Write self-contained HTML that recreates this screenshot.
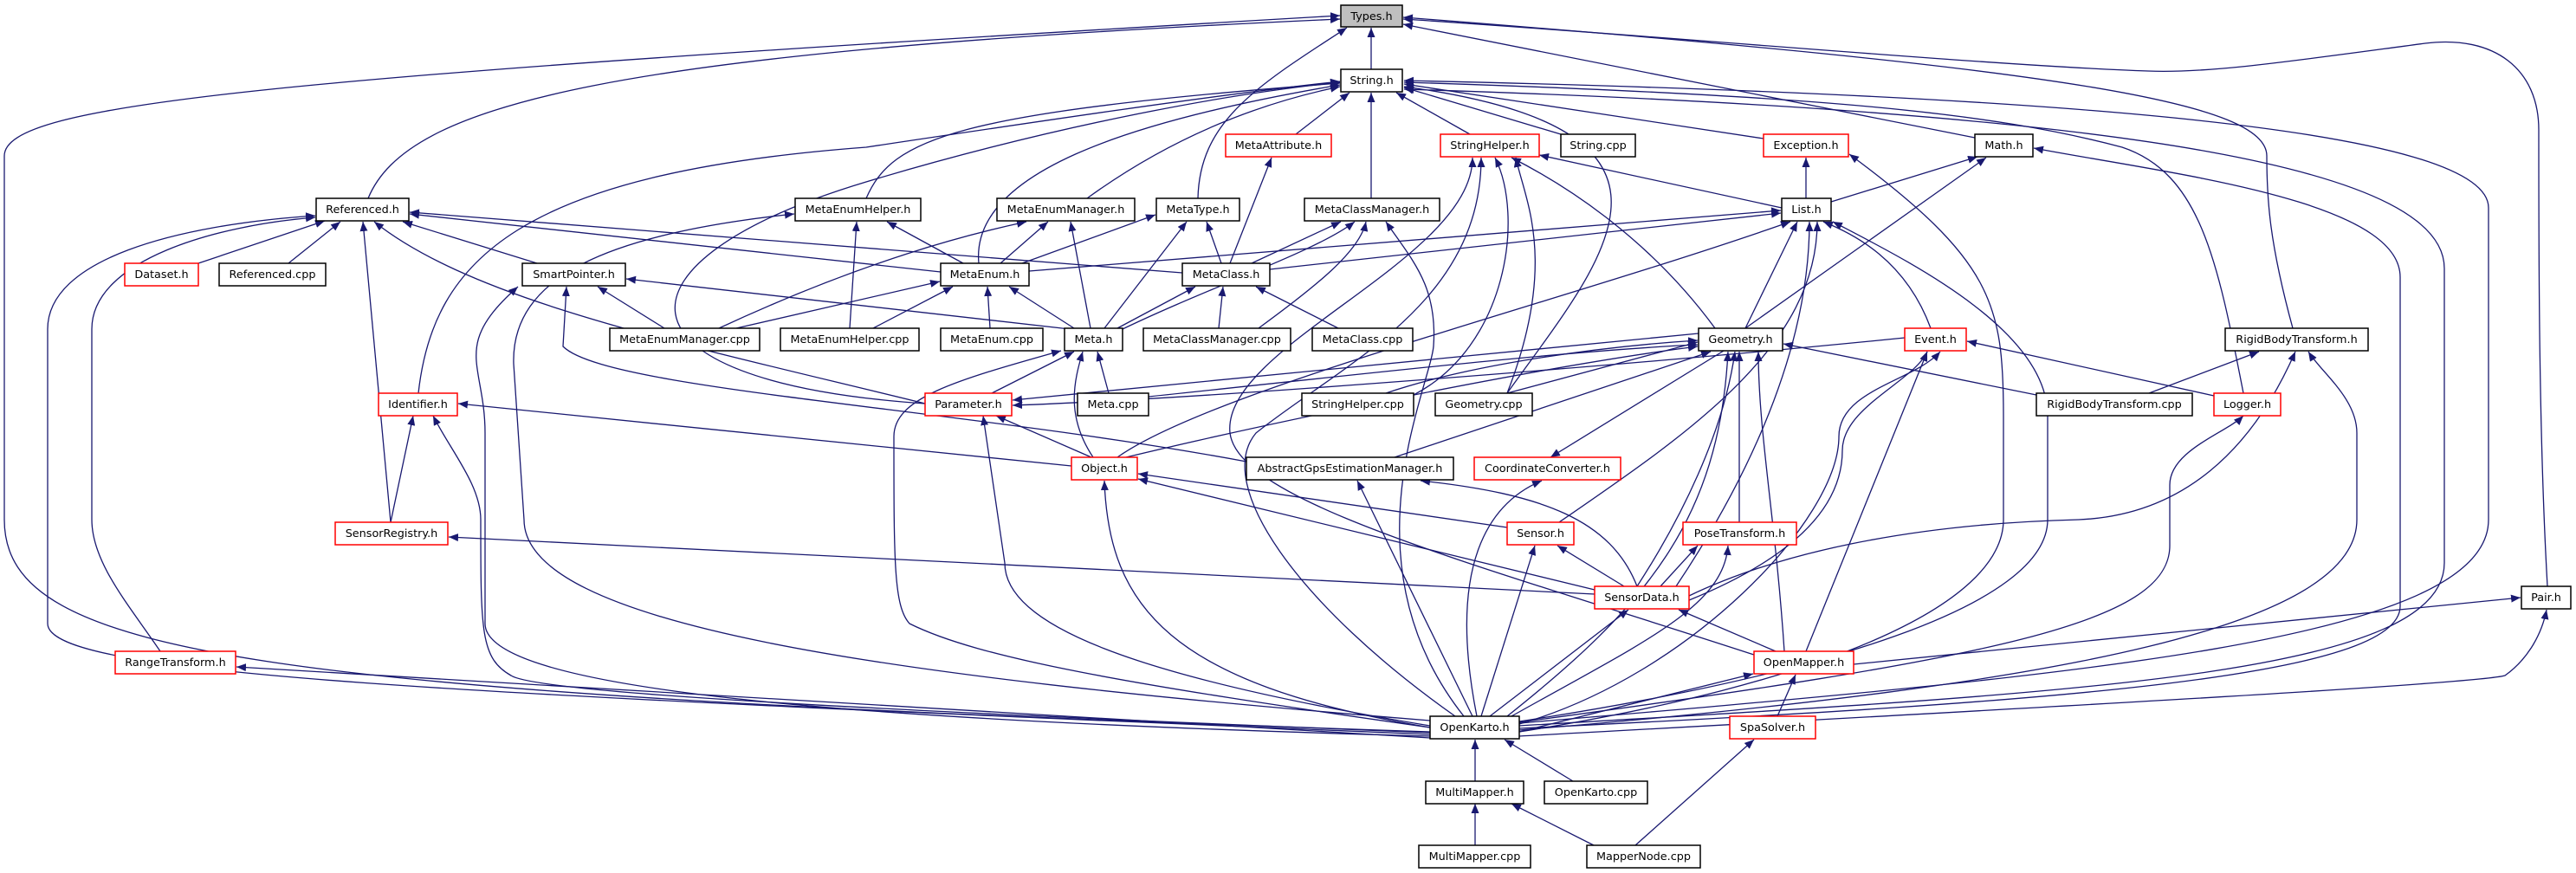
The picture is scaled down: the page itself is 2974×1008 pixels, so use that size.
<!DOCTYPE html>
<html><head><meta charset="utf-8"><style>
html,body{margin:0;padding:0;background:#fff;}
svg{display:block;}
text{font-family:"DejaVu Sans","Liberation Sans",sans-serif;font-size:12.8px;fill:#000;}
</style></head><body>
<svg width="2974" height="1008" viewBox="0 0 2974 1008" xmlns="http://www.w3.org/2000/svg">
<defs>
<marker id="a" markerUnits="userSpaceOnUse" markerWidth="12" markerHeight="10" refX="11" refY="4.5" orient="auto">
<polygon points="0,0 11,4.5 0,9" fill="#191970"/>
</marker>
</defs>
<g fill="none" stroke="#191970" stroke-width="1.3" marker-end="url(#a)">
<path d="M1583,80 L1583,32"/>
<path d="M425,229 C470,120 700,60 1547,22"/>
<path d="M1651,845 C300,800 5,760 5,600 L5,180 C5,120 300,90 1547,18"/>
<path d="M1383,229 C1385,140 1450,100 1555,32"/>
<path d="M2285,160 L1620,28"/>
<path d="M2647,379 C2620,280 2617,230 2617,180 C2617,120 2400,80 1620,20"/>
<path d="M2941,677 C2931,500 2931,300 2931,150 C2931,80 2880,40 2800,50 C2650,70 2550,85 2480,82 C2300,76 1900,40 1620,22"/>
<path d="M1496,155 L1558,107"/>
<path d="M1697,155 L1612,107"/>
<path d="M1802,155 L1621,101"/>
<path d="M1583,229 L1583,107"/>
<path d="M2036,160 L1621,97"/>
<path d="M1255,229 C1350,160 1450,120 1547,100"/>
<path d="M1130,304 C1120,200 1300,140 1547,98"/>
<path d="M1000,229 C1030,160 1100,130 1547,96"/>
<path d="M1068,466 C690,440 700,300 1000,210 C1200,150 1400,110 1547,95"/>
<path d="M483,454 C500,300 600,200 1000,170 C1200,140 1400,110 1547,94"/>
<path d="M2590,454 C2560,300 2540,200 2450,170 C2300,130 2100,110 1621,95"/>
<path d="M1740,454 C1850,300 1990,150 1621,100"/>
<path d="M1754,835 C2400,780 2873,740 2873,600 L2873,240 C2873,150 2400,110 1621,93"/>
<path d="M1754,838 C2400,800 2822,780 2822,650 L2822,310 C2822,200 2500,130 1621,103"/>
<path d="M2114,233 L2283,181"/>
<path d="M2015,379 L2293,182"/>
<path d="M1754,841 C2400,810 2771,780 2771,700 L2771,320 C2771,230 2500,200 2348,171"/>
<path d="M2085,229 L2085,182"/>
<path d="M1754,845 C2100,790 2313,700 2313,600 L2313,480 C2313,350 2300,300 2135,178"/>
<path d="M2057,240 L1777,179"/>
<path d="M1980,379 C1900,270 1800,210 1745,182"/>
<path d="M1632,456 C1740,400 1760,250 1726,182"/>
<path d="M1680,827 C1500,700 1400,560 1450,500 C1550,420 1710,350 1710,182"/>
<path d="M1740,454 C1800,300 1760,230 1750,182"/>
<path d="M2025,756 C1700,650 1430,580 1420,500 C1410,400 1700,300 1700,182"/>
<path d="M1420,304 L1468,182"/>
<path d="M229,304 L375,255"/>
<path d="M333,304 L393,256"/>
<path d="M451,603 L419,256"/>
<path d="M620,304 L465,256"/>
<path d="M1068,466 C800,400 550,350 432,256"/>
<path d="M1651,848 C500,800 55,780 55,720 L55,380 C55,300 200,260 364,249"/>
<path d="M185,752 C150,700 106,650 106,600 L106,380 C106,300 250,260 364,251"/>
<path d="M1086,314 L473,247"/>
<path d="M1365,315 L473,245"/>
<path d="M1112,304 L1024,256"/>
<path d="M981,379 L989,256"/>
<path d="M1651,832 C1000,780 605,720 605,600 L593,420 C590,320 700,270 917,247"/>
<path d="M1155,304 L1210,256"/>
<path d="M1259,379 L1236,256"/>
<path d="M830,379 C1000,300 1120,270 1185,256"/>
<path d="M1180,304 L1334,248"/>
<path d="M1275,379 L1370,256"/>
<path d="M1410,304 L1393,256"/>
<path d="M1445,304 L1548,256"/>
<path d="M1296,380 C1400,330 1520,290 1564,256"/>
<path d="M1453,379 C1520,330 1570,290 1577,256"/>
<path d="M1690,827 C1550,650 1650,450 1655,400 C1660,330 1630,300 1600,256"/>
<path d="M1188,313 L2056,243"/>
<path d="M1466,311 L2056,246"/>
<path d="M2015,379 L2075,256"/>
<path d="M2229,379 C2200,300 2140,270 2105,256"/>
<path d="M1935,677 C2000,580 2089,420 2089,256"/>
<path d="M1754,833 C2100,780 2364,700 2364,600 L2364,480 C2364,380 2200,300 2116,256"/>
<path d="M1290,528 C1400,450 1800,350 2067,256"/>
<path d="M1800,603 C1950,500 2098,400 2098,256"/>
<path d="M850,379 L1085,325"/>
<path d="M1008,379 L1100,331"/>
<path d="M1143,379 L1140,331"/>
<path d="M1240,379 L1165,331"/>
<path d="M1290,379 L1380,331"/>
<path d="M1407,379 L1412,331"/>
<path d="M1545,379 L1450,331"/>
<path d="M1235,380 L723,322"/>
<path d="M767,379 L690,331"/>
<path d="M1651,850 C900,830 560,790 560,720 L560,500 C560,420 520,400 598,331"/>
<path d="M1439,533 C1100,470 700,450 650,400 L654,331"/>
<path d="M1145,454 L1240,406"/>
<path d="M1280,454 L1267,406"/>
<path d="M1262,528 C1230,480 1240,440 1250,406"/>
<path d="M1651,840 C1300,790 1130,760 1050,720 C1032,700 1032,650 1032,504 C1032,460 1100,440 1225,405"/>
<path d="M1260,528 L1150,480"/>
<path d="M1651,838 C1300,780 1160,720 1160,650 L1135,480"/>
<path d="M1961,385 L1169,462"/>
<path d="M2199,390 C1900,420 1400,460 1169,468"/>
<path d="M1237,538 L529,466"/>
<path d="M451,603 L477,480"/>
<path d="M1651,846 C1000,820 620,800 590,780 C555,760 555,730 555,600 C555,560 520,520 500,480"/>
<path d="M1740,609 L1314,547"/>
<path d="M1841,681 L1314,553"/>
<path d="M1651,840 C1350,790 1280,700 1275,555"/>
<path d="M1700,827 L1567,555"/>
<path d="M1890,677 C1860,600 1780,570 1640,555"/>
<path d="M1705,827 C1670,650 1720,580 1780,555"/>
<path d="M1990,405 L1790,528"/>
<path d="M1875,677 L1798,630"/>
<path d="M1710,827 L1772,630"/>
<path d="M1841,686 L518,620"/>
<path d="M1917,677 L1960,630"/>
<path d="M1745,827 C1900,740 1990,700 1995,630"/>
<path d="M1720,827 L1880,704"/>
<path d="M2050,752 L1938,704"/>
<path d="M1950,688 C2050,640 2200,605 2400,600 C2520,595 2600,520 2650,406"/>
<path d="M1950,693 C2080,640 2127,580 2127,520 C2127,470 2210,440 2225,406"/>
<path d="M1740,827 C1900,700 1985,600 1995,406"/>
<path d="M2060,752 C2050,600 2030,500 2030,406"/>
<path d="M2008,603 L2008,406"/>
<path d="M1890,677 C1940,600 1990,500 2003,406"/>
<path d="M1740,454 L1960,395"/>
<path d="M1600,454 C1700,420 1850,400 1960,393"/>
<path d="M2351,456 L2059,397"/>
<path d="M1326,458 C1500,440 1800,405 1960,398"/>
<path d="M1300,528 C1500,480 1800,420 1960,400"/>
<path d="M1610,528 L1975,406"/>
<path d="M2556,457 L2271,394"/>
<path d="M2085,752 L2225,406"/>
<path d="M1754,836 C1950,780 2123,600 2123,504 C2123,450 2210,440 2240,406"/>
<path d="M2481,454 L2608,406"/>
<path d="M1754,843 C2400,790 2721,720 2721,600 L2721,500 C2721,460 2680,430 2665,406"/>
<path d="M1754,834 C2300,760 2505,720 2505,630 L2505,560 C2505,520 2570,500 2590,480"/>
<path d="M2140,767 L2910,690"/>
<path d="M1754,850 C2300,820 2860,790 2892,780 C2920,760 2935,730 2940,704"/>
<path d="M1754,845 L2024,778"/>
<path d="M2052,827 L2073,779"/>
<path d="M1703,902 L1703,854"/>
<path d="M1816,902 L1737,854"/>
<path d="M1651,852 L273,770"/>
<path d="M1888,976 L2025,854"/>
<path d="M1703,976 L1703,928"/>
<path d="M1840,976 L1745,928"/>
</g>
<g stroke-width="1.5">
<g fill="#fff" stroke="#000">
<rect x="1548" y="80" width="71" height="26"/>
<rect x="1802" y="155" width="86" height="26"/>
<rect x="2280" y="155" width="67" height="26"/>
<rect x="365" y="229" width="107" height="26"/>
<rect x="918" y="229" width="145" height="26"/>
<rect x="1151" y="229" width="159" height="26"/>
<rect x="1335" y="229" width="96" height="26"/>
<rect x="1506" y="229" width="156" height="26"/>
<rect x="2057" y="229" width="57" height="26"/>
<rect x="253" y="304" width="123" height="26"/>
<rect x="603" y="304" width="119" height="26"/>
<rect x="1086" y="304" width="102" height="26"/>
<rect x="1365" y="304" width="101" height="26"/>
<rect x="704" y="379" width="173" height="26"/>
<rect x="901" y="379" width="160" height="26"/>
<rect x="1086" y="379" width="118" height="26"/>
<rect x="1229" y="379" width="67" height="26"/>
<rect x="1320" y="379" width="170" height="26"/>
<rect x="1515" y="379" width="116" height="26"/>
<rect x="1961" y="379" width="97" height="26"/>
<rect x="2569" y="379" width="165" height="26"/>
<rect x="1244" y="454" width="82" height="26"/>
<rect x="1503" y="454" width="129" height="26"/>
<rect x="1657" y="454" width="112" height="26"/>
<rect x="2351" y="454" width="180" height="26"/>
<rect x="1439" y="528" width="239" height="26"/>
<rect x="2911" y="677" width="57" height="26"/>
<rect x="1651" y="827" width="103" height="26"/>
<rect x="1646" y="902" width="113" height="26"/>
<rect x="1783" y="902" width="119" height="26"/>
<rect x="1638" y="976" width="129" height="26"/>
<rect x="1832" y="976" width="131" height="26"/>
</g>
<rect x="1548" y="6" width="71" height="25" fill="#bfbfbf" stroke="#000"/>
<g fill="#fff" stroke="#ff0000">
<rect x="1415" y="155" width="122" height="26"/>
<rect x="1663" y="155" width="114" height="26"/>
<rect x="2036" y="155" width="98" height="26"/>
<rect x="144" y="304" width="85" height="26"/>
<rect x="2199" y="379" width="71" height="26"/>
<rect x="437" y="454" width="91" height="26"/>
<rect x="1068" y="454" width="100" height="26"/>
<rect x="2556" y="454" width="77" height="26"/>
<rect x="1237" y="528" width="76" height="26"/>
<rect x="1702" y="528" width="169" height="26"/>
<rect x="387" y="603" width="130" height="26"/>
<rect x="1740" y="603" width="77" height="26"/>
<rect x="1943" y="603" width="131" height="26"/>
<rect x="1841" y="677" width="109" height="26"/>
<rect x="133" y="752" width="139" height="26"/>
<rect x="2025" y="752" width="115" height="26"/>
<rect x="1997" y="827" width="99" height="26"/>
</g>
</g>
<g text-anchor="middle">
<text x="1583.5" y="23">Types.h</text>
<text x="1583.5" y="97">String.h</text>
<text x="1476" y="172">MetaAttribute.h</text>
<text x="1720" y="172">StringHelper.h</text>
<text x="1845" y="172">String.cpp</text>
<text x="2085" y="172">Exception.h</text>
<text x="2313.5" y="172">Math.h</text>
<text x="418.5" y="246">Referenced.h</text>
<text x="990.5" y="246">MetaEnumHelper.h</text>
<text x="1230.5" y="246">MetaEnumManager.h</text>
<text x="1383" y="246">MetaType.h</text>
<text x="1584" y="246">MetaClassManager.h</text>
<text x="2085.5" y="246">List.h</text>
<text x="186.5" y="321">Dataset.h</text>
<text x="314.5" y="321">Referenced.cpp</text>
<text x="662.5" y="321">SmartPointer.h</text>
<text x="1137" y="321">MetaEnum.h</text>
<text x="1415.5" y="321">MetaClass.h</text>
<text x="790.5" y="396">MetaEnumManager.cpp</text>
<text x="981" y="396">MetaEnumHelper.cpp</text>
<text x="1145" y="396">MetaEnum.cpp</text>
<text x="1262.5" y="396">Meta.h</text>
<text x="1405" y="396">MetaClassManager.cpp</text>
<text x="1573" y="396">MetaClass.cpp</text>
<text x="2009.5" y="396">Geometry.h</text>
<text x="2234.5" y="396">Event.h</text>
<text x="2651.5" y="396">RigidBodyTransform.h</text>
<text x="482.5" y="471">Identifier.h</text>
<text x="1118" y="471">Parameter.h</text>
<text x="1285" y="471">Meta.cpp</text>
<text x="1567.5" y="471">StringHelper.cpp</text>
<text x="1713" y="471">Geometry.cpp</text>
<text x="2441" y="471">RigidBodyTransform.cpp</text>
<text x="2594.5" y="471">Logger.h</text>
<text x="1275" y="545">Object.h</text>
<text x="1558.5" y="545">AbstractGpsEstimationManager.h</text>
<text x="1786.5" y="545">CoordinateConverter.h</text>
<text x="452" y="620">SensorRegistry.h</text>
<text x="1778.5" y="620">Sensor.h</text>
<text x="2008.5" y="620">PoseTransform.h</text>
<text x="1895.5" y="694">SensorData.h</text>
<text x="2939.5" y="694">Pair.h</text>
<text x="202.5" y="769">RangeTransform.h</text>
<text x="2082.5" y="769">OpenMapper.h</text>
<text x="1702.5" y="844">OpenKarto.h</text>
<text x="2046.5" y="844">SpaSolver.h</text>
<text x="1702.5" y="919">MultiMapper.h</text>
<text x="1842.5" y="919">OpenKarto.cpp</text>
<text x="1702.5" y="993">MultiMapper.cpp</text>
<text x="1897.5" y="993">MapperNode.cpp</text>
</g>
</svg>
</body></html>
